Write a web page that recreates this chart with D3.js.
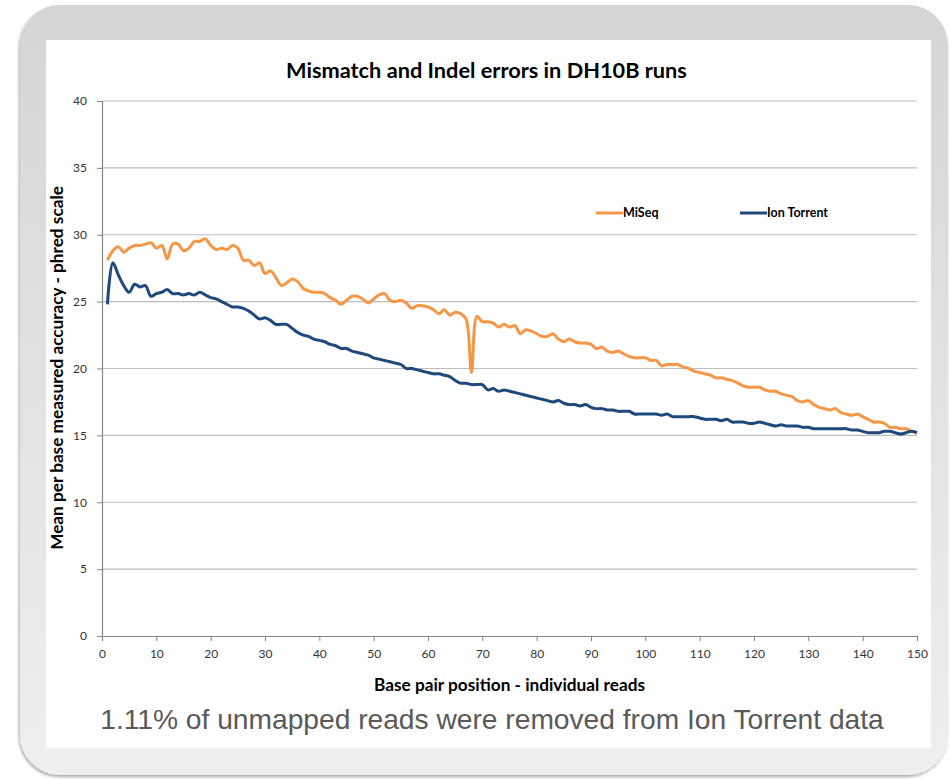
<!DOCTYPE html>
<html><head><meta charset="utf-8">
<script src="https://cdn.jsdelivr.net/npm/d3@7"></script>
<style>body{margin:0;background:#fff}</style>
</head><body><svg id="c" width="950" height="779"></svg>
<script>
const chartTitle = "Mismatch and Indel errors in DH10B runs";
const xTitle = "Base pair position - individual reads";
const yTitle = "Mean per base measured accuracy - phred scale";
const caption = "1.11% of unmapped reads were removed from Ion Torrent data";
const seriesNames = ["MiSeq", "Ion Torrent"];
const xTicks = [0,10,20,30,40,50,60,70,80,90,100,110,120,130,140,150];
const yTicks = [0,5,10,15,20,25,30,35,40];

const miseq = [
28.1, 28.8, 29.1, 28.7, 29.0, 29.2, 29.2, 29.3, 29.4, 29.0,
29.2, 28.2, 29.3, 29.3, 28.8, 29.0, 29.5, 29.5, 29.7, 29.2,
28.9, 29.0, 28.9, 29.2, 29.0, 28.1, 28.1, 27.7, 27.9, 27.1,
27.3, 26.8, 26.2, 26.4, 26.7, 26.5, 26.0, 25.8, 25.7, 25.7,
25.6, 25.3, 25.1, 24.8, 25.1, 25.4, 25.4, 25.2, 24.9, 25.2,
25.5, 25.6, 25.1, 25.0, 25.1, 24.9, 24.5, 24.7, 24.7, 24.6,
24.4, 24.1, 24.4, 24.0, 24.2, 24.1, 23.7, 19.7, 23.9, 23.5,
23.5, 23.4, 23.1, 23.3, 23.1, 23.2, 22.6, 22.9, 22.8, 22.6,
22.4, 22.4, 22.6, 22.2, 22.0, 22.2, 22.0, 21.9, 21.9, 21.8,
21.5, 21.6, 21.3, 21.2, 21.3, 21.1, 20.9, 20.8, 20.8, 20.8,
20.6, 20.6, 20.2, 20.3, 20.3, 20.3, 20.1, 20.0, 19.8, 19.7,
19.6, 19.5, 19.3, 19.3, 19.2, 19.1, 18.9, 18.7, 18.6, 18.6,
18.6, 18.4, 18.3, 18.3, 18.1, 18.0, 17.9, 17.6, 17.5, 17.6,
17.3, 17.1, 17.0, 16.9, 17.0, 16.7, 16.6, 16.5, 16.6, 16.4,
16.2, 16.0, 16.0, 15.9, 15.6, 15.6, 15.5, 15.5, 15.3, 15.2
];
const ionTorrent = [
24.8, 27.9, 27.0, 26.2, 25.7, 26.3, 26.1, 26.2, 25.4, 25.6,
25.7, 25.9, 25.6, 25.6, 25.5, 25.6, 25.5, 25.7, 25.5, 25.3,
25.2, 25.0, 24.8, 24.6, 24.6, 24.5, 24.3, 24.0, 23.7, 23.8,
23.6, 23.3, 23.3, 23.3, 23.0, 22.7, 22.5, 22.4, 22.2, 22.1,
22.0, 21.8, 21.7, 21.5, 21.5, 21.3, 21.2, 21.1, 21.0, 20.8,
20.7, 20.6, 20.5, 20.4, 20.3, 20.0, 20.0, 19.9, 19.8, 19.7,
19.6, 19.6, 19.5, 19.4, 19.1, 18.9, 18.9, 18.8, 18.8, 18.8,
18.4, 18.5, 18.3, 18.4, 18.3, 18.2, 18.1, 18.0, 17.9, 17.8,
17.7, 17.6, 17.5, 17.6, 17.4, 17.3, 17.3, 17.2, 17.3, 17.1,
17.0, 17.0, 16.9, 16.9, 16.8, 16.8, 16.8, 16.6, 16.6, 16.6,
16.6, 16.6, 16.5, 16.6, 16.4, 16.4, 16.4, 16.4, 16.4, 16.3,
16.2, 16.2, 16.2, 16.1, 16.2, 16.0, 16.0, 16.0, 15.9, 15.9,
16.0, 15.9, 15.8, 15.7, 15.8, 15.7, 15.7, 15.7, 15.6, 15.6,
15.5, 15.5, 15.5, 15.5, 15.5, 15.5, 15.5, 15.4, 15.4, 15.3,
15.2, 15.2, 15.2, 15.3, 15.3, 15.2, 15.1, 15.2, 15.3, 15.2
];
const colors = ["#F79646", "#1F497D"];

const svg = d3.select("#c");
const font = "Lato, 'Open Sans', sans-serif";

// frame
const defs = svg.append("defs");
const g1 = defs.append("linearGradient").attr("id","fg").attr("x1",0).attr("y1",0).attr("x2",0).attr("y2",1);
g1.append("stop").attr("offset","0%").attr("stop-color","#d5d5d5");
g1.append("stop").attr("offset","100%").attr("stop-color","#efefef");
const f = defs.append("filter").attr("id","sh").attr("x","-5%").attr("y","-5%").attr("width","110%").attr("height","110%");
f.append("feDropShadow").attr("dx",-1).attr("dy",2).attr("stdDeviation",1.5).attr("flood-color","#000").attr("flood-opacity",0.35);
svg.append("rect").attr("x",20).attr("y",5).attr("width",928).attr("height",770).attr("rx",40).attr("ry",40)
  .attr("fill","url(#fg)").attr("filter","url(#sh)");
svg.append("rect").attr("x",46).attr("y",40).attr("width",885).attr("height",708).attr("fill","#fff");

const x = d3.scaleLinear().domain([0,150]).range([102,917]);
const y = d3.scaleLinear().domain([0,40]).range([636,101]);

// gridlines
svg.append("g").selectAll("line").data(yTicks.filter(d=>d>0)).join("line")
  .attr("x1",x(0)).attr("x2",x(150)).attr("y1",d=>y(d)).attr("y2",d=>y(d))
  .attr("stroke","#bdbdbd").attr("stroke-width",1.2);

// axes
const yAxis = svg.append("g").attr("transform",`translate(${x(0)},0)`)
  .call(d3.axisLeft(y).tickValues(yTicks).tickSize(5).tickPadding(8));
const xAxis = svg.append("g").attr("transform",`translate(0,${y(0)})`)
  .call(d3.axisBottom(x).tickValues(xTicks).tickSize(5).tickPadding(8));
[yAxis,xAxis].forEach(a=>{
  a.select(".domain").attr("stroke","#868686").attr("stroke-width",1.2);
  a.selectAll(".tick line").attr("stroke","#868686");
  a.selectAll(".tick text").attr("font-family",font).attr("font-size",12).attr("fill","#333");
});
yAxis.selectAll(".tick text").attr("dx",-2);

// lines
const line = d3.line().x((d,i)=>x(i+1)).y(d=>y(d)).curve(d3.curveCatmullRom.alpha(0.5));
[miseq, ionTorrent].forEach((s,k)=>{
  svg.append("path").datum(s).attr("d",line).attr("fill","none")
    .attr("stroke",colors[k]).attr("stroke-width",3).attr("stroke-linejoin","round");
});

// legend
const legX = [596, 740];
seriesNames.forEach((n,k)=>{
  svg.append("line").attr("x1",legX[k]).attr("x2",legX[k]+27).attr("y1",213).attr("y2",213)
    .attr("stroke",colors[k]).attr("stroke-width",3);
  svg.append("text").attr("x",legX[k]+27).attr("y",217).text(n)
    .attr("font-family",font).attr("font-weight","bold").attr("font-size",12.5).attr("fill","#000");
});

function fit(t, w){
  const fs = +t.attr("font-size");
  const m = t.node().getComputedTextLength();
  t.attr("font-size", fs*w/m);
}
const tt = svg.append("text").attr("x",486.5).attr("y",78).attr("text-anchor","middle").text(chartTitle)
  .attr("font-family",font).attr("font-weight","bold").attr("font-size",20).attr("fill","#000");
fit(tt,401);
const xt = svg.append("text").attr("x",509.5).attr("y",691).attr("text-anchor","middle").text(xTitle)
  .attr("font-family",font).attr("font-weight","bold").attr("font-size",15).attr("fill","#000");
fit(xt,271);
const yt = svg.append("text").attr("transform","translate(63,368) rotate(-90)").attr("text-anchor","middle").text(yTitle)
  .attr("font-family",font).attr("font-weight","bold").attr("font-size",15).attr("fill","#000");
fit(yt,364);
const ct = svg.append("text").attr("x",492).attr("y",729).attr("text-anchor","middle").text(caption)
  .attr("font-family","'Liberation Sans', Arial, sans-serif").attr("font-size",26).attr("fill","#595959");
fit(ct,784);
</script></body></html>
